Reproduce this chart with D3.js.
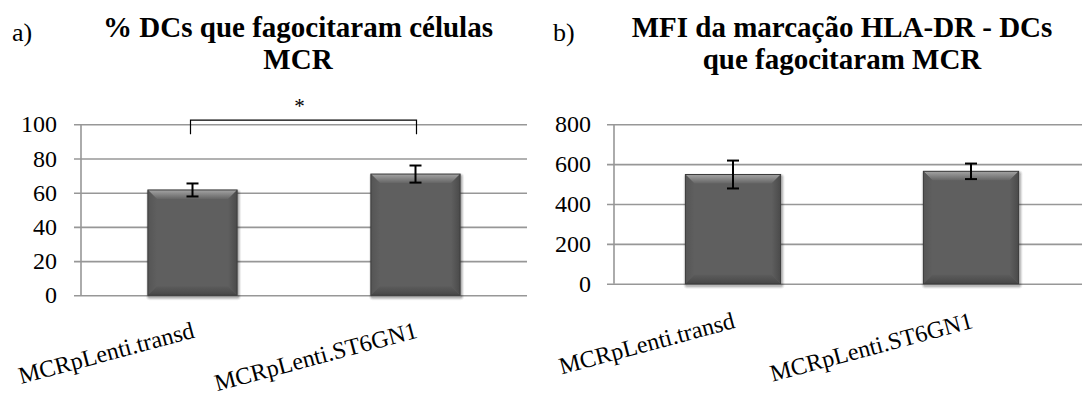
<!DOCTYPE html>
<html>
<head>
<meta charset="utf-8">
<script src="https://cdn.jsdelivr.net/npm/d3@7"></script>
</head>
<body style="margin:0">
<div id="chart"></div>
<script>
// data
var categories = ["MCRpLenti.transd", "MCRpLenti.ST6GN1"];

var pctValues = [61.6, 70.9];
var pctErrors = [3.8, 5.0];
var pctTicks = [0, 20, 40, 60, 80, 100];

var mfiValues = [548, 564];
var mfiErrors = [70, 39];
var mfiTicks = [0, 200, 400, 600, 800];

var titleA = ["% DCs que fagocitaram células", "MCR"];
var titleB = ["MFI da marcação HLA-DR - DCs", "que fagocitaram MCR"];

var fontName = "'Liberation Serif'";

var svg = d3.select("#chart")
            .append("svg")
              .attr("width", 1082)
              .attr("height", 394)
              .attr("font-family", "Liberation Serif")
              .style("font-family", fontName);

// bar look: bevel gradients
var defs = svg.append("defs");

function addGradient(id, x1, y1, x2, y2, c1, c2) {
  var g = defs.append("linearGradient")
                .attr("id", id)
                .attr("x1", x1).attr("y1", y1)
                .attr("x2", x2).attr("y2", y2);
  g.append("stop").attr("offset", "0%").attr("stop-color", c1);
  g.append("stop").attr("offset", "100%").attr("stop-color", c2);
}
addGradient("bevelTop", 0, 0, 0, 1, "#a4a4a4", "#656565");
addGradient("bevelLeft", 0, 0, 1, 0, "#555555", "#5f5f5f");
addGradient("bevelRight", 0, 0, 1, 0, "#5f5f5f", "#4a4a4a");
addGradient("bevelBottom", 0, 0, 0, 1, "#5c5c5c", "#474747");

function addText(sel, size) {
  return sel.append("text")
              .attr("font-family", "Liberation Serif")
              .style("font-family", fontName)
              .attr("font-size", size);
}

function drawPanel(opts) {
  var g = svg.append("g");

  var xScale = d3.scaleBand()
                  .domain(categories)
                  .range(opts.xRange)
                  .padding(0);

  var yScale = d3.scaleLinear()
                  .domain([0, d3.max(opts.ticks)])
                  .range(opts.yRange);

  var barW = xScale.bandwidth() * 0.4;
  var cx = function(c) { return xScale(c) + xScale.bandwidth() / 2; };

  // gridlines with small stubs left of the axis
  var yAxis = d3.axisLeft(yScale)
                 .tickValues(opts.ticks)
                 .tickSize(-(opts.gridEnd - opts.xRange[0]))
                 .tickFormat("");

  var axisG = g.append("g")
                .attr("transform", "translate(" + opts.xRange[0] + ",0)")
                .call(yAxis);
  axisG.select(".domain").remove();
  axisG.selectAll(".tick line")
        .attr("x1", -7)
        .attr("stroke", "#979797")
        .attr("stroke-width", 1.6);

  g.append("line")
    .attr("x1", opts.xRange[0]).attr("x2", opts.xRange[0])
    .attr("y1", yScale(d3.max(opts.ticks))).attr("y2", yScale(0))
    .attr("stroke", "#979797")
    .attr("stroke-width", 1.6);

  // tick labels
  opts.ticks.forEach(function(d) {
    addText(g, 24)
      .attr("x", opts.xRange[0] - opts.labelGap)
      .attr("y", yScale(d))
      .attr("dy", "0.34em")
      .attr("text-anchor", "end")
      .text(d);
  });

  // bars
  var bev = 9;
  opts.values.forEach(function(d, i) {
    var x0 = cx(categories[i]) - barW / 2;
    var x1 = x0 + barW;
    var y0 = yScale(d);
    var y1 = yScale(0);
    var b = g.append("g");
    // soft shadow
    [4, 3, 2].forEach(function(s, k) {
      b.append("rect")
        .attr("x", x0 - s + 2).attr("y", y0 - s + 3)
        .attr("width", barW + 2 * s - 2).attr("height", y1 - y0 + 2 * s - 2)
        .attr("rx", s)
        .attr("fill", "#000")
        .attr("opacity", 0.06 + k * 0.04);
    });
    b.append("rect")
      .attr("x", x0).attr("y", y0)
      .attr("width", barW).attr("height", y1 - y0)
      .attr("fill", "#5f5f5f");
    b.append("path")
      .attr("d", "M" + x0 + "," + y0 + "L" + x1 + "," + y0 + "L" + (x1 - bev) + "," + (y0 + bev) + "L" + (x0 + bev) + "," + (y0 + bev) + "Z")
      .attr("fill", "url(#bevelTop)");
    b.append("path")
      .attr("d", "M" + x0 + "," + y0 + "L" + (x0 + bev) + "," + (y0 + bev) + "L" + (x0 + bev) + "," + (y1 - bev) + "L" + x0 + "," + y1 + "Z")
      .attr("fill", "url(#bevelLeft)");
    b.append("path")
      .attr("d", "M" + x1 + "," + y0 + "L" + (x1 - bev) + "," + (y0 + bev) + "L" + (x1 - bev) + "," + (y1 - bev) + "L" + x1 + "," + y1 + "Z")
      .attr("fill", "url(#bevelRight)");
    b.append("path")
      .attr("d", "M" + x0 + "," + y1 + "L" + (x0 + bev) + "," + (y1 - bev) + "L" + (x1 - bev) + "," + (y1 - bev) + "L" + x1 + "," + y1 + "Z")
      .attr("fill", "url(#bevelBottom)");
    b.append("rect")
      .attr("x", x0).attr("y", y0)
      .attr("width", barW).attr("height", y1 - y0)
      .attr("fill", "none")
      .attr("stroke", "#3c3c3c")
      .attr("stroke-width", 1);
  });

  // error bars
  var capW = 6;
  opts.values.forEach(function(d, i) {
    var x = cx(categories[i]);
    var hi = yScale(d + opts.errors[i]);
    var lo = yScale(d - opts.errors[i]);
    var e = g.append("g").attr("stroke", "#000").attr("stroke-width", 2);
    e.append("line").attr("x1", x).attr("x2", x).attr("y1", hi).attr("y2", lo);
    e.append("line").attr("x1", x - capW).attr("x2", x + capW).attr("y1", hi).attr("y2", hi);
    e.append("line").attr("x1", x - capW).attr("x2", x + capW).attr("y1", lo).attr("y2", lo);
  });

  // category labels, rotated
  categories.forEach(function(c) {
    addText(g, 24)
      .attr("text-anchor", "end")
      .attr("transform", "translate(" + (cx(c) + 3) + "," + (yScale(0) + opts.catDrop) + ") rotate(-15)")
      .text(c);
  });

  // title
  opts.title.forEach(function(line, i) {
    addText(g, 29)
      .attr("font-weight", "bold")
      .attr("text-anchor", "middle")
      .attr("x", opts.titleX)
      .attr("y", 37 + i * 32)
      .text(line);
  });

  addText(g, 26)
    .attr("x", opts.tagX)
    .attr("y", 41)
    .text(opts.tag);

  return { g: g, yScale: yScale, cx: cx };
}

var panelA = drawPanel({
  xRange: [81, 527], yRange: [295.3, 124.3], gridEnd: 527,
  ticks: pctTicks, values: pctValues, errors: pctErrors,
  labelGap: 24, catDrop: 42,
  title: titleA, titleX: 298, tag: "a)", tagX: 12
});

var panelB = drawPanel({
  xRange: [614, 1090], yRange: [283.7, 124.3], gridEnd: 1090,
  ticks: mfiTicks, values: mfiValues, errors: mfiErrors,
  labelGap: 23, catDrop: 44,
  title: titleB, titleX: 842, tag: "b)", tagX: 553
});

// significance bracket between the two bars in panel a
var sigTop = 102.5;
var sigFoot = 94.2;
var xa = panelA.cx(categories[0]) - 2;
var xb = panelA.cx(categories[1]) + 1;
var ya = panelA.yScale;

panelA.g.append("path")
  .attr("d", "M" + xa + "," + ya(sigFoot) + "V" + ya(sigTop) + "H" + xb + "V" + ya(sigFoot))
  .attr("fill", "none")
  .attr("stroke", "#000")
  .attr("stroke-width", 1.2);

addText(panelA.g, 21)
  .attr("x", (xa + xb) / 2 - 4)
  .attr("y", ya(sigTop) - 7)
  .attr("text-anchor", "middle")
  .text("*");
</script>
</body>
</html>
